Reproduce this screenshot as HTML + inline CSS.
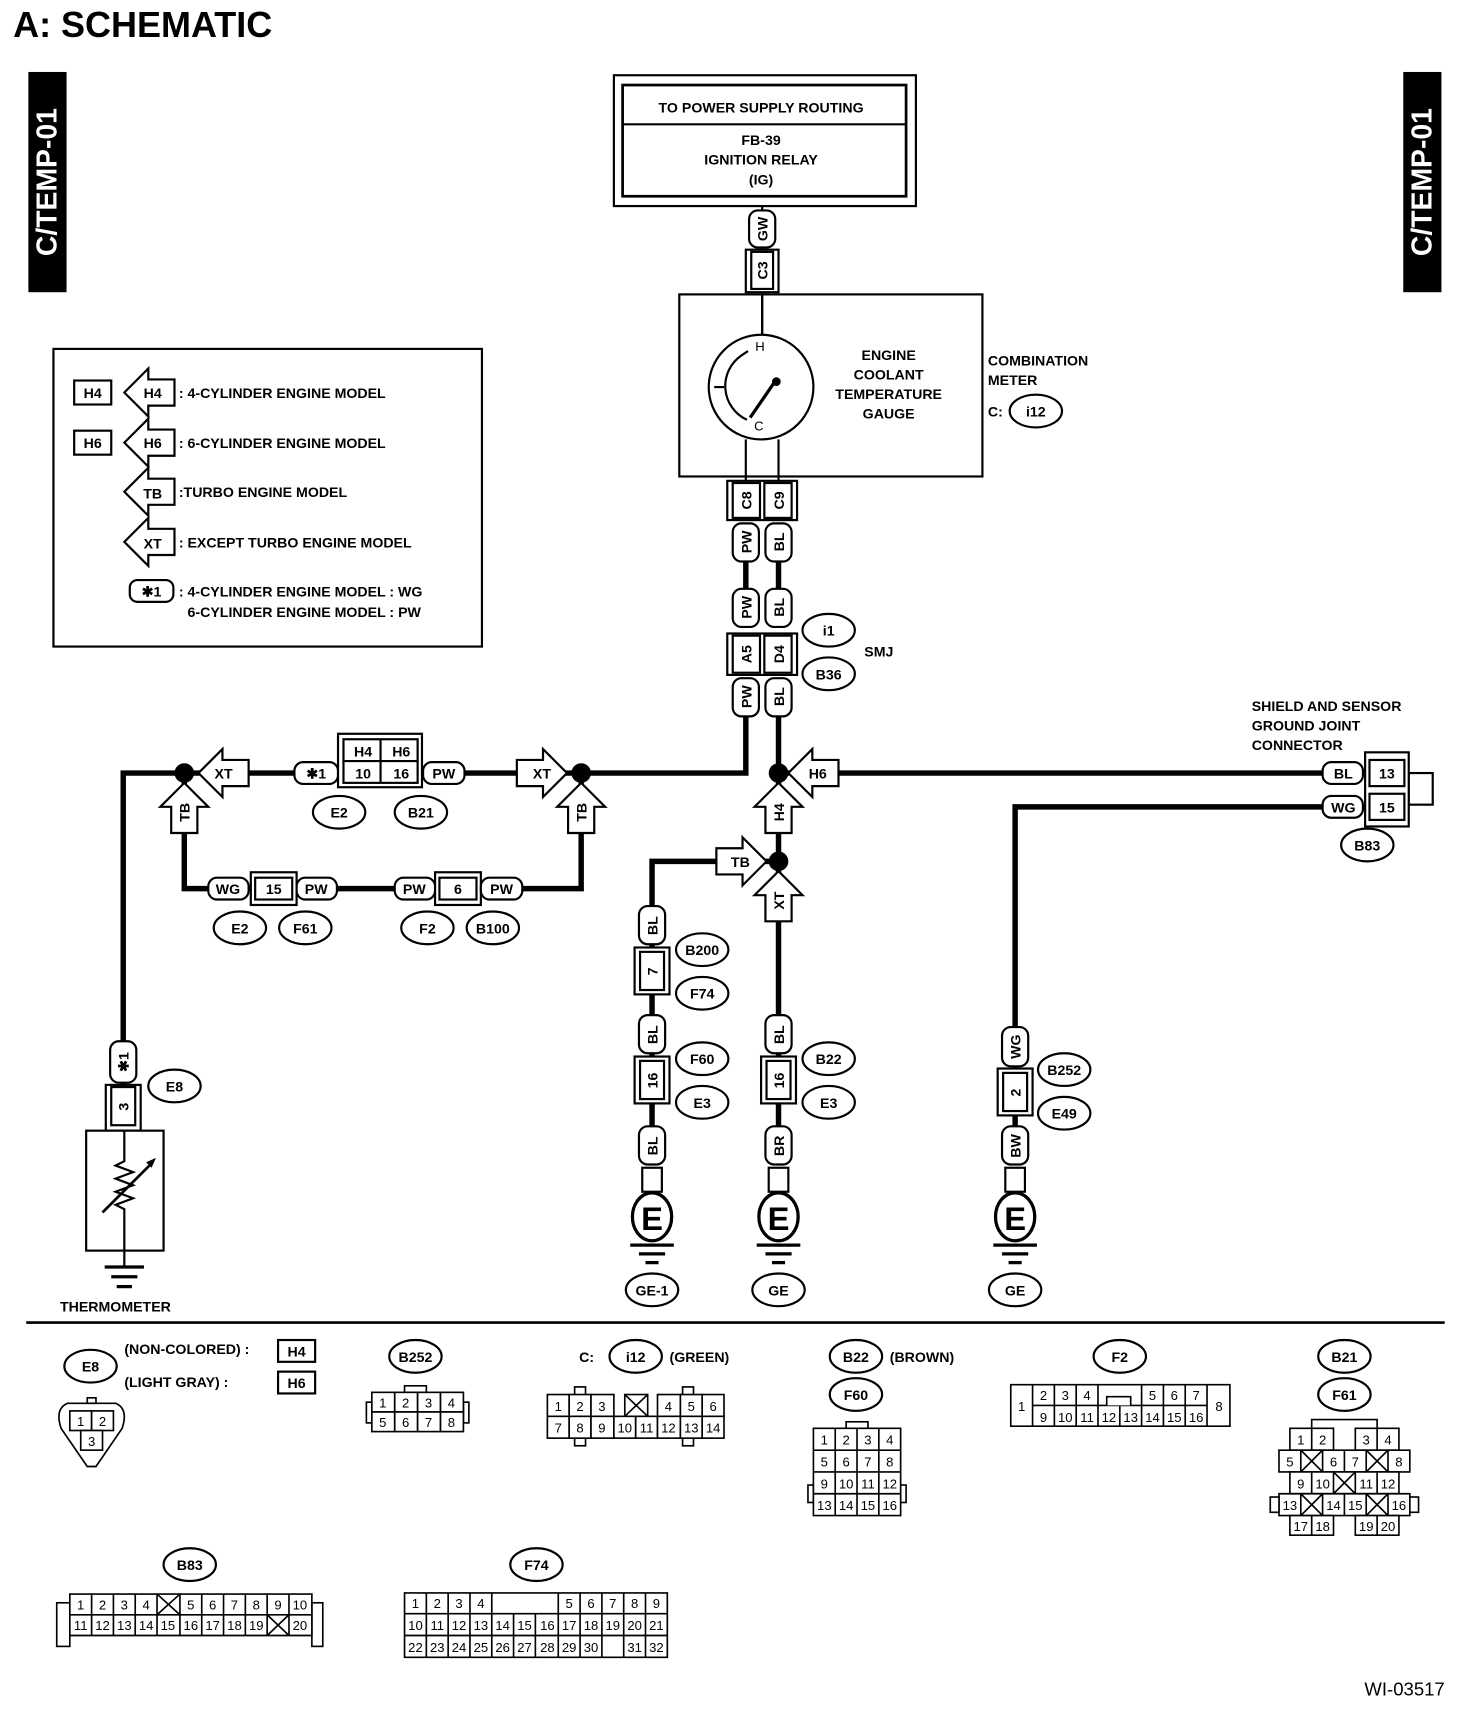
<!DOCTYPE html>
<html><head><meta charset="utf-8"><style>
html,body{margin:0;padding:0;background:#fff}
svg{display:block}
text{font-family:"Liberation Sans",sans-serif;fill:#000}
</style></head><body>
<svg width="1472" height="1714" viewBox="0 0 1350 1572" xmlns="http://www.w3.org/2000/svg">
<defs>
<polygon id="arL" points="0,0 22,-22 22,-12 46,-12 46,12 22,12 22,22" fill="#fff" stroke="#000" stroke-width="2"/>
</defs>
<g font-size="13" text-anchor="middle" font-weight="bold">
<!-- title -->
<text x="12" y="34" font-size="33" text-anchor="start">A:  SCHEMATIC</text>
<rect x="26" y="66" width="35" height="202" fill="#000"/>
<text transform="translate(52,167) rotate(-90)" font-size="26" style="fill:#fff">C/TEMP-01</text>
<rect x="1287" y="66" width="35" height="202" fill="#000"/>
<text transform="translate(1313,167) rotate(-90)" font-size="26" style="fill:#fff">C/TEMP-01</text>

<!-- power box -->
<rect x="563" y="69" width="277" height="120" fill="none" stroke="#000" stroke-width="2"/>
<rect x="571" y="78" width="260" height="102" fill="none" stroke="#000" stroke-width="2.5"/>
<line x1="571" y1="114" x2="831" y2="114" stroke="#000" stroke-width="2"/>
<text x="698" y="103">TO POWER SUPPLY ROUTING</text>
<text x="698" y="133">FB-39</text>
<text x="698" y="151">IGNITION RELAY</text>
<text x="698" y="169">(IG)</text>

<!-- thin wires -->
<g stroke="#000" stroke-width="2" fill="none">
<line x1="699" y1="189" x2="699" y2="307"/>
<line x1="684" y1="403" x2="684" y2="442"/>
<line x1="714" y1="403" x2="714" y2="442"/>
</g>
<!-- thick wires -->
<g stroke="#000" stroke-width="5" fill="none">
<line x1="684" y1="515" x2="684" y2="540"/>
<line x1="714" y1="515" x2="714" y2="540"/>
<polyline points="684,657 684,709 113,709 113,955"/>
<line x1="714" y1="657" x2="714" y2="1035"/>
<line x1="714" y1="709" x2="1213" y2="709"/>
<polyline points="169,709 169,815 533,815 533,709"/>
<polyline points="714,790 598,790 598,1035"/>
<polyline points="1213,740 931,740 931,1035"/>
<line x1="113" y1="993" x2="113" y2="997"/>
</g>
<g fill="#000">
<circle cx="169" cy="709" r="9"/><circle cx="533" cy="709" r="9"/>
<circle cx="714" cy="709" r="9"/><circle cx="714" cy="790" r="9"/>
</g>

<!-- GW/C3 -->
<rect x="687" y="193" width="24" height="34" rx="8" fill="#fff" stroke="#000" stroke-width="2"/>
<text transform="translate(704,210) rotate(-90)">GW</text>
<rect x="684" y="229" width="30" height="39" fill="#fff" stroke="#000" stroke-width="2"/>
<rect x="689" y="231" width="20" height="34" fill="#fff" stroke="#000" stroke-width="2"/>
<text transform="translate(704,248) rotate(-90)">C3</text>

<!-- meter -->
<rect x="623" y="270" width="278" height="167" fill="none" stroke="#000" stroke-width="2"/>
<circle cx="698" cy="355" r="48" fill="#fff" stroke="#000" stroke-width="2"/>
<path d="M686,322 L680,326 A34,34 0 0 0 685,385" fill="none" stroke="#000" stroke-width="2"/>
<line x1="655" y1="355" x2="664" y2="355" stroke="#000" stroke-width="2"/>
<line x1="688" y1="383" x2="712" y2="348" stroke="#000" stroke-width="3"/>
<circle cx="712" cy="350" r="4"/>
<text x="697" y="322" font-size="12" font-weight="normal">H</text>
<text x="696" y="395" font-size="12" font-weight="normal">C</text>
<line x1="699" y1="270" x2="699" y2="307" stroke="#000" stroke-width="2"/>
<text x="815" y="330">ENGINE</text><text x="815" y="348">COOLANT</text>
<text x="815" y="366">TEMPERATURE</text><text x="815" y="384">GAUGE</text>
<text x="906" y="335" text-anchor="start">COMBINATION</text>
<text x="906" y="353" text-anchor="start">METER</text>
<text x="906" y="382" text-anchor="start">C:</text>
<ellipse cx="950" cy="377" rx="24" ry="15" fill="#fff" stroke="#000" stroke-width="2"/><text x="950" y="382">i12</text>

<!-- C8 C9 -->
<rect x="667" y="441" width="64" height="36" fill="#fff" stroke="#000" stroke-width="2"/>
<rect x="672" y="443" width="25" height="32" fill="#fff" stroke="#000" stroke-width="2"/>
<rect x="701" y="443" width="25" height="32" fill="#fff" stroke="#000" stroke-width="2"/>
<text transform="translate(689,459) rotate(-90)">C8</text>
<text transform="translate(719,459) rotate(-90)">C9</text>
<g fill="#fff" stroke="#000" stroke-width="2">
<rect x="672" y="480" width="24" height="35" rx="8"/><rect x="702" y="480" width="24" height="35" rx="8"/>
<rect x="672" y="540" width="24" height="35" rx="8"/><rect x="702" y="540" width="24" height="35" rx="8"/>
<rect x="672" y="622" width="24" height="35" rx="8"/><rect x="702" y="622" width="24" height="35" rx="8"/>
<rect x="667" y="581" width="64" height="38"/>
<rect x="672" y="583" width="25" height="34"/><rect x="701" y="583" width="25" height="34"/>
</g>
<text transform="translate(689,497) rotate(-90)">PW</text><text transform="translate(719,497) rotate(-90)">BL</text>
<text transform="translate(689,557) rotate(-90)">PW</text><text transform="translate(719,557) rotate(-90)">BL</text>
<text transform="translate(689,600) rotate(-90)">A5</text><text transform="translate(719,600) rotate(-90)">D4</text>
<text transform="translate(689,639) rotate(-90)">PW</text><text transform="translate(719,639) rotate(-90)">BL</text>
<g fill="#fff" stroke="#000" stroke-width="2">
<ellipse cx="760" cy="578" rx="24" ry="15"/><ellipse cx="760" cy="618" rx="24" ry="15"/>
</g>
<text x="760" y="583">i1</text><text x="760" y="623">B36</text>
<text x="806" y="602">SMJ</text>

<!-- legend -->
<rect x="49" y="320" width="393" height="273" fill="none" stroke="#000" stroke-width="2"/>
<rect x="68" y="349" width="34" height="22" fill="#fff" stroke="#000" stroke-width="2"/><text x="85" y="365">H4</text>
<rect x="68" y="395" width="34" height="22" fill="#fff" stroke="#000" stroke-width="2"/><text x="85" y="411">H6</text>
<use href="#arL" x="114" y="360"/><text x="140" y="365">H4</text>
<use href="#arL" x="114" y="406"/><text x="140" y="411">H6</text>
<use href="#arL" x="114" y="451"/><text x="140" y="457">TB</text>
<use href="#arL" x="114" y="497"/><text x="140" y="503">XT</text>
<rect x="119" y="532" width="40" height="20" rx="7" fill="#fff" stroke="#000" stroke-width="2"/><text x="139" y="547">✱1</text>
<g text-anchor="start">
<text x="164" y="365">: 4-CYLINDER ENGINE MODEL</text>
<text x="164" y="411">: 6-CYLINDER ENGINE MODEL</text>
<text x="164" y="456">:TURBO ENGINE MODEL</text>
<text x="164" y="502">: EXCEPT TURBO ENGINE MODEL</text>
<text x="164" y="547">: 4-CYLINDER ENGINE MODEL : WG</text>
<text x="172" y="566">6-CYLINDER ENGINE MODEL  : PW</text>
</g>

<!-- row y=709 elements -->
<use href="#arL" x="182" y="709"/><text x="205" y="714">XT</text>
<use href="#arL" transform="translate(520,709) rotate(180)"/><text x="497" y="714">XT</text>
<use href="#arL" x="723" y="709"/><text x="750" y="714">H6</text>
<use href="#arL" transform="translate(169,718) rotate(90)"/><text transform="translate(174,745) rotate(-90)">TB</text>
<use href="#arL" transform="translate(533,718) rotate(90)"/><text transform="translate(538,745) rotate(-90)">TB</text>
<use href="#arL" transform="translate(714,718) rotate(90)"/><text transform="translate(719,745) rotate(-90)">H4</text>
<use href="#arL" transform="translate(714,799) rotate(90)"/><text transform="translate(719,826) rotate(-90)">XT</text>
<use href="#arL" transform="translate(703,790) rotate(180)"/><text x="679" y="795">TB</text>
<g fill="#fff" stroke="#000" stroke-width="2">
<rect x="270" y="699" width="40" height="20" rx="8"/>
<rect x="310" y="673" width="77" height="49"/>
<rect x="315" y="678" width="68" height="40"/>
<line x1="315" y1="698" x2="383" y2="698"/><line x1="349" y1="678" x2="349" y2="718"/>
<rect x="388" y="699" width="38" height="20" rx="8"/>
<rect x="191" y="805" width="37" height="20" rx="8"/>
<rect x="230" y="800" width="42" height="30"/><rect x="234" y="805" width="34" height="20"/>
<rect x="272" y="805" width="37" height="20" rx="8"/>
<rect x="362" y="805" width="37" height="20" rx="8"/>
<rect x="399" y="800" width="42" height="30"/><rect x="403" y="805" width="34" height="20"/>
<rect x="441" y="805" width="38" height="20" rx="8"/>
<ellipse cx="311" cy="745" rx="24" ry="15"/><ellipse cx="386" cy="745" rx="24" ry="15"/>
<ellipse cx="220" cy="851" rx="24" ry="15"/><ellipse cx="280" cy="851" rx="24" ry="15"/>
<ellipse cx="392" cy="851" rx="24" ry="15"/><ellipse cx="452" cy="851" rx="24" ry="15"/>
</g>
<text x="290" y="714">✱1</text><text x="333" y="694">H4</text><text x="368" y="694">H6</text>
<text x="333" y="714">10</text><text x="368" y="714">16</text><text x="407" y="714">PW</text>
<text x="311" y="750">E2</text><text x="386" y="750">B21</text>
<text x="209" y="820">WG</text><text x="251" y="820">15</text><text x="290" y="820">PW</text>
<text x="380" y="820">PW</text><text x="420" y="820">6</text><text x="460" y="820">PW</text>
<text x="220" y="856">E2</text><text x="280" y="856">F61</text><text x="392" y="856">F2</text><text x="452" y="856">B100</text>

<!-- shield connector -->
<text x="1148" y="652" text-anchor="start">SHIELD AND SENSOR</text>
<text x="1148" y="670" text-anchor="start">GROUND JOINT</text>
<text x="1148" y="688" text-anchor="start">CONNECTOR</text>
<g fill="#fff" stroke="#000" stroke-width="2">
<rect x="1292" y="709" width="22" height="29"/>
<rect x="1252" y="690" width="40" height="68"/>
<rect x="1256" y="697" width="32" height="24"/><rect x="1256" y="728" width="32" height="24"/>
<rect x="1213" y="699" width="37" height="20" rx="8"/><rect x="1213" y="730" width="37" height="20" rx="8"/>
<ellipse cx="1254" cy="775" rx="24" ry="15"/>
</g>
<text x="1272" y="714">13</text><text x="1272" y="745">15</text>
<text x="1232" y="714">BL</text><text x="1232" y="745">WG</text><text x="1254" y="780">B83</text>

<!-- vertical connectors lower -->
<g fill="#fff" stroke="#000" stroke-width="2">
<rect x="586" y="831" width="24" height="35" rx="8"/>
<rect x="582" y="869" width="32" height="43"/><rect x="587" y="873" width="22" height="35"/>
<rect x="586" y="931" width="24" height="35" rx="8"/>
<rect x="582" y="969" width="32" height="43"/><rect x="587" y="973" width="22" height="35"/>
<rect x="586" y="1033" width="24" height="35" rx="8"/>
<rect x="589" y="1071" width="18" height="22"/>
<rect x="702" y="931" width="24" height="35" rx="8"/>
<rect x="698" y="969" width="32" height="43"/><rect x="703" y="973" width="22" height="35"/>
<rect x="702" y="1033" width="24" height="35" rx="8"/>
<rect x="705" y="1071" width="18" height="22"/>
<rect x="919" y="942" width="24" height="36" rx="8"/>
<rect x="915" y="980" width="32" height="43"/><rect x="920" y="984" width="22" height="35"/>
<rect x="919" y="1033" width="24" height="35" rx="8"/>
<rect x="922" y="1071" width="18" height="22"/>
<ellipse cx="644" cy="871" rx="24" ry="15"/><ellipse cx="644" cy="911" rx="24" ry="15"/>
<ellipse cx="644" cy="971" rx="24" ry="15"/><ellipse cx="644" cy="1011" rx="24" ry="15"/>
<ellipse cx="760" cy="971" rx="24" ry="15"/><ellipse cx="760" cy="1011" rx="24" ry="15"/>
<ellipse cx="976" cy="981" rx="24" ry="15"/><ellipse cx="976" cy="1021" rx="24" ry="15"/>
<ellipse cx="598" cy="1183" rx="24" ry="15"/><ellipse cx="714" cy="1183" rx="24" ry="15"/><ellipse cx="931" cy="1183" rx="24" ry="15"/>
<ellipse cx="598" cy="1116" rx="18" ry="22" stroke-width="3"/><ellipse cx="714" cy="1116" rx="18" ry="22" stroke-width="3"/><ellipse cx="931" cy="1116" rx="18" ry="22" stroke-width="3"/>
</g>
<g>
<text transform="translate(603,849) rotate(-90)">BL</text><text transform="translate(603,891) rotate(-90)">7</text>
<text transform="translate(603,949) rotate(-90)">BL</text><text transform="translate(603,991) rotate(-90)">16</text>
<text transform="translate(603,1051) rotate(-90)">BL</text>
<text transform="translate(719,949) rotate(-90)">BL</text><text transform="translate(719,991) rotate(-90)">16</text>
<text transform="translate(719,1051) rotate(-90)">BR</text>
<text transform="translate(936,960) rotate(-90)">WG</text><text transform="translate(936,1002) rotate(-90)">2</text>
<text transform="translate(936,1051) rotate(-90)">BW</text>
<text x="644" y="876">B200</text><text x="644" y="916">F74</text><text x="644" y="976">F60</text><text x="644" y="1016">E3</text>
<text x="760" y="976">B22</text><text x="760" y="1016">E3</text>
<text x="976" y="986">B252</text><text x="976" y="1026">E49</text>
<text x="598" y="1188">GE-1</text><text x="714" y="1188">GE</text><text x="931" y="1188">GE</text>
<text x="598" y="1128" font-size="30">E</text><text x="714" y="1128" font-size="30">E</text><text x="931" y="1128" font-size="30">E</text>
</g>
<g stroke="#000" stroke-width="3">
<line x1="578" y1="1142" x2="618" y2="1142"/><line x1="586" y1="1150" x2="610" y2="1150"/><line x1="592" y1="1158" x2="604" y2="1158"/>
<line x1="694" y1="1142" x2="734" y2="1142"/><line x1="702" y1="1150" x2="726" y2="1150"/><line x1="708" y1="1158" x2="720" y2="1158"/>
<line x1="911" y1="1142" x2="951" y2="1142"/><line x1="919" y1="1150" x2="943" y2="1150"/><line x1="925" y1="1158" x2="937" y2="1158"/>
</g>

<!-- thermometer -->
<g fill="#fff" stroke="#000" stroke-width="2">
<rect x="101" y="955" width="24" height="38" rx="8"/>
<rect x="97" y="995" width="32" height="42"/><rect x="102" y="997" width="22" height="35"/>
<rect x="79" y="1037" width="71" height="110"/>
<ellipse cx="160" cy="996" rx="24" ry="15"/>
</g>
<text transform="translate(118,974) rotate(-90)">✱1</text><text transform="translate(118,1015) rotate(-90)">3</text>
<text x="160" y="1001">E8</text>
<g stroke="#000" stroke-width="2" fill="none">
<polyline points="114,1037 114,1065 106,1069 122,1075 106,1081 122,1087 106,1093 122,1099 106,1105 114,1109 114,1147"/>
<line x1="94" y1="1112" x2="140" y2="1066" stroke-width="2.5"/>
<line x1="114" y1="1147" x2="114" y2="1162"/>
<line x1="96" y1="1162" x2="132" y2="1162" stroke-width="3"/>
<line x1="102" y1="1171" x2="126" y2="1171" stroke-width="3"/>
<line x1="107" y1="1180" x2="121" y2="1180" stroke-width="3"/>
</g>
<polygon points="143,1062 134,1066 139,1071" fill="#000"/>
<text x="55" y="1203" text-anchor="start">THERMOMETER</text>
<line x1="24" y1="1213" x2="1325" y2="1213" stroke="#000" stroke-width="2.5"/>

<!-- bottom connectors -->
<g fill="#fff" stroke="#000" stroke-width="2">
<ellipse cx="83" cy="1253" rx="24" ry="15"/>
<rect x="255" y="1229" width="34" height="20"/><rect x="255" y="1258" width="34" height="20"/>
<ellipse cx="381" cy="1244" rx="24" ry="15"/>
<ellipse cx="583" cy="1244" rx="24" ry="15"/>
<ellipse cx="785" cy="1244" rx="24" ry="15"/><ellipse cx="785" cy="1279" rx="24" ry="15"/>
<ellipse cx="1027" cy="1244" rx="24" ry="15"/>
<ellipse cx="1233" cy="1244" rx="24" ry="15"/><ellipse cx="1233" cy="1279" rx="24" ry="15"/>
<ellipse cx="174" cy="1435" rx="24" ry="15"/><ellipse cx="492" cy="1435" rx="24" ry="15"/>
</g>
<text x="83" y="1258">E8</text><text x="272" y="1244">H4</text><text x="272" y="1273">H6</text>
<text x="114" y="1242" text-anchor="start">(NON-COLORED) :</text>
<text x="114" y="1272" text-anchor="start">(LIGHT GRAY) :</text>
<text x="381" y="1249">B252</text>
<text x="538" y="1249">C:</text><text x="583" y="1249">i12</text><text x="614" y="1249" text-anchor="start">(GREEN)</text>
<text x="785" y="1249">B22</text><text x="816" y="1249" text-anchor="start">(BROWN)</text><text x="785" y="1284">F60</text>
<text x="1027" y="1249">F2</text><text x="1233" y="1249">B21</text><text x="1233" y="1284">F61</text>
<text x="174" y="1440">B83</text><text x="492" y="1440">F74</text>

<g fill="#fff" stroke="#000" stroke-width="1.5">
<path d="M62,1287 L106,1287 Q118,1292 112,1310 L88,1345 L80,1345 L56,1310 Q50,1292 62,1287 Z"/>
<rect x="80" y="1282" width="8" height="5"/>
<rect x="64" y="1294" width="20" height="18"/><rect x="84" y="1294" width="20" height="18"/><rect x="74" y="1312" width="20" height="18"/>
<rect x="371" y="1271" width="20" height="6"/>
<rect x="336" y="1286" width="5" height="19"/><rect x="425" y="1286" width="5" height="19"/>
<rect x="341" y="1277" width="21" height="18"/><rect x="362" y="1277" width="21" height="18"/><rect x="383" y="1277" width="21" height="18"/><rect x="404" y="1277" width="21" height="18"/>
<rect x="341" y="1295" width="21" height="18"/><rect x="362" y="1295" width="21" height="18"/><rect x="383" y="1295" width="21" height="18"/><rect x="404" y="1295" width="21" height="18"/>
<rect x="527" y="1272" width="10" height="54"/><rect x="626" y="1272" width="10" height="54"/>
<rect x="502" y="1279" width="20" height="20"/><rect x="522" y="1279" width="20" height="20"/><rect x="542" y="1279" width="21" height="20"/>
<rect x="573" y="1279" width="21" height="20"/><rect x="603" y="1279" width="21" height="20"/><rect x="624" y="1279" width="20" height="20"/><rect x="644" y="1279" width="20" height="20"/>
<rect x="502" y="1299" width="20" height="20"/><rect x="522" y="1299" width="20" height="20"/><rect x="542" y="1299" width="21" height="20"/><rect x="563" y="1299" width="20" height="20"/>
<rect x="583" y="1299" width="20" height="20"/><rect x="603" y="1299" width="21" height="20"/><rect x="624" y="1299" width="20" height="20"/><rect x="644" y="1299" width="20" height="20"/>
<path d="M573,1279 L594,1299 M594,1279 L573,1299"/>
<rect x="776" y="1304" width="20" height="6"/>
<rect x="741" y="1362" width="5" height="16"/><rect x="826" y="1362" width="5" height="16"/>
<path d="M746,1310 h80 v80 h-80 Z M746,1330 h80 M746,1350 h80 M746,1370 h80 M766,1310 v80 M786,1310 v80 M806,1310 v80"/>
<path d="M927,1270 h201 v38 h-201 Z M947,1270 v38 M1107,1270 v38 M947,1289 h160 M967,1270 v38 M987,1270 v38 M1007,1270 v38 M1047,1270 v38 M1067,1270 v38 M1087,1270 v38 M1027,1289 v19"/>
<path d="M1015,1289 v-8 h22 v8" />
<path d="M1203,1310 v-8 h60 v8"/>
<path d="M1183,1310 h40 v20 h-40 Z M1203,1310 v20 M1243,1310 h40 v20 h-40 Z M1263,1310 v20"/>
<path d="M1173,1330 h120 v20 h-120 Z M1193,1330 v20 M1213,1330 v20 M1233,1330 v20 M1253,1330 v20 M1273,1330 v20"/>
<path d="M1183,1350 h100 v20 h-100 Z M1203,1350 v20 M1223,1350 v20 M1243,1350 v20 M1263,1350 v20"/>
<path d="M1173,1370 h120 v20 h-120 Z M1193,1370 v20 M1213,1370 v20 M1233,1370 v20 M1253,1370 v20 M1273,1370 v20"/>
<rect x="1165" y="1373" width="8" height="14"/><rect x="1293" y="1373" width="8" height="14"/>
<path d="M1183,1390 h40 v18 h-40 Z M1203,1390 v18 M1243,1390 h40 v18 h-40 Z M1263,1390 v18"/>
<path d="M1193,1330 l20,20 M1213,1330 l-20,20 M1253,1330 l20,20 M1273,1330 l-20,20 M1223,1350 l20,20 M1243,1350 l-20,20 M1193,1370 l20,20 M1213,1370 l-20,20 M1253,1370 l20,20 M1273,1370 l-20,20"/>
<rect x="52" y="1470" width="12" height="40"/><rect x="286" y="1470" width="10" height="40"/>
<path d="M64,1462 h222 v38 h-222 Z M64,1481 h222 M84,1462 v38 M104,1462 v38 M124,1462 v38 M144,1462 v38 M165,1462 v38 M185,1462 v38 M205,1462 v38 M225,1462 v38 M245,1462 v38 M265,1462 v38"/>
<path d="M144,1462 l21,19 M165,1462 l-21,19 M245,1481 l20,19 M265,1481 l-20,19"/>
<path d="M462,1478 v-10 h40 v10"/>
<path d="M371,1461 h241 v59 h-241 Z M371,1480 h241 M371,1500 h241 M391,1461 v59 M411,1461 v59 M431,1461 v59 M451,1461 v59 M471,1480 v40 M491,1480 v40 M512,1461 v59 M532,1461 v59 M552,1461 v59 M572,1461 v59 M592,1461 v59"/>
</g>
<g font-size="12" font-weight="normal">
<text x="74" y="1308">1</text><text x="94" y="1308">2</text><text x="84" y="1326">3</text>
<text x="351" y="1291">1</text><text x="372" y="1291">2</text><text x="393" y="1291">3</text><text x="414" y="1291">4</text>
<text x="351" y="1309">5</text><text x="372" y="1309">6</text><text x="393" y="1309">7</text><text x="414" y="1309">8</text>
<text x="512" y="1294">1</text><text x="532" y="1294">2</text><text x="552" y="1294">3</text><text x="613" y="1294">4</text><text x="634" y="1294">5</text><text x="654" y="1294">6</text>
<text x="512" y="1314">7</text><text x="532" y="1314">8</text><text x="552" y="1314">9</text><text x="573" y="1314">10</text><text x="593" y="1314">11</text><text x="613" y="1314">12</text><text x="634" y="1314">13</text><text x="654" y="1314">14</text>
<text x="756" y="1325">1</text><text x="776" y="1325">2</text><text x="796" y="1325">3</text><text x="816" y="1325">4</text>
<text x="756" y="1345">5</text><text x="776" y="1345">6</text><text x="796" y="1345">7</text><text x="816" y="1345">8</text>
<text x="756" y="1365">9</text><text x="776" y="1365">10</text><text x="796" y="1365">11</text><text x="816" y="1365">12</text>
<text x="756" y="1385">13</text><text x="776" y="1385">14</text><text x="796" y="1385">15</text><text x="816" y="1385">16</text>
<text x="937" y="1294">1</text><text x="1118" y="1294">8</text>
<text x="957" y="1284">2</text><text x="977" y="1284">3</text><text x="997" y="1284">4</text><text x="1057" y="1284">5</text><text x="1077" y="1284">6</text><text x="1097" y="1284">7</text>
<text x="957" y="1304">9</text><text x="977" y="1304">10</text><text x="997" y="1304">11</text><text x="1017" y="1304">12</text><text x="1037" y="1304">13</text><text x="1057" y="1304">14</text><text x="1077" y="1304">15</text><text x="1097" y="1304">16</text>
<text x="1193" y="1325">1</text><text x="1213" y="1325">2</text><text x="1253" y="1325">3</text><text x="1273" y="1325">4</text>
<text x="1183" y="1345">5</text><text x="1223" y="1345">6</text><text x="1243" y="1345">7</text><text x="1283" y="1345">8</text>
<text x="1193" y="1365">9</text><text x="1213" y="1365">10</text><text x="1253" y="1365">11</text><text x="1273" y="1365">12</text>
<text x="1183" y="1385">13</text><text x="1223" y="1385">14</text><text x="1243" y="1385">15</text><text x="1283" y="1385">16</text>
<text x="1193" y="1404">17</text><text x="1213" y="1404">18</text><text x="1253" y="1404">19</text><text x="1273" y="1404">20</text>
<text x="74" y="1476">1</text><text x="94" y="1476">2</text><text x="114" y="1476">3</text><text x="134" y="1476">4</text><text x="175" y="1476">5</text><text x="195" y="1476">6</text><text x="215" y="1476">7</text><text x="235" y="1476">8</text><text x="255" y="1476">9</text><text x="275" y="1476">10</text>
<text x="74" y="1495">11</text><text x="94" y="1495">12</text><text x="114" y="1495">13</text><text x="134" y="1495">14</text><text x="154" y="1495">15</text><text x="175" y="1495">16</text><text x="195" y="1495">17</text><text x="215" y="1495">18</text><text x="235" y="1495">19</text><text x="275" y="1495">20</text>
<text x="381" y="1475">1</text><text x="401" y="1475">2</text><text x="421" y="1475">3</text><text x="441" y="1475">4</text><text x="522" y="1475">5</text><text x="542" y="1475">6</text><text x="562" y="1475">7</text><text x="582" y="1475">8</text><text x="602" y="1475">9</text>
<text x="381" y="1495">10</text><text x="401" y="1495">11</text><text x="421" y="1495">12</text><text x="441" y="1495">13</text><text x="461" y="1495">14</text><text x="481" y="1495">15</text><text x="502" y="1495">16</text><text x="522" y="1495">17</text><text x="542" y="1495">18</text><text x="562" y="1495">19</text><text x="582" y="1495">20</text><text x="602" y="1495">21</text>
<text x="381" y="1515">22</text><text x="401" y="1515">23</text><text x="421" y="1515">24</text><text x="441" y="1515">25</text><text x="461" y="1515">26</text><text x="481" y="1515">27</text><text x="502" y="1515">28</text><text x="522" y="1515">29</text><text x="542" y="1515">30</text><text x="582" y="1515">31</text><text x="602" y="1515">32</text>
</g>
<text x="1325" y="1555" font-size="17" font-weight="normal" text-anchor="end">WI-03517</text>
</g>
</svg>
</body></html>
